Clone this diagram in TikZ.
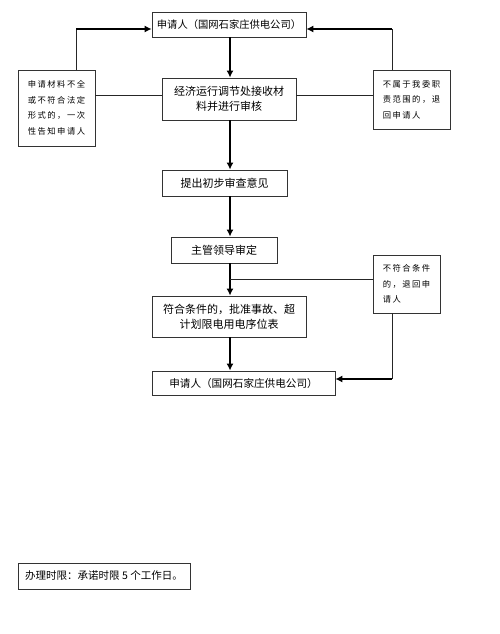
\documentclass[tikz,border=0pt]{standalone}
\usepackage{fontspec}
\setmainfont{Noto Sans CJK SC}
\newfontfamily\cjks[LetterSpace=18]{Noto Sans CJK SC}
\usetikzlibrary{arrows.meta}
\begin{document}
\begin{tikzpicture}[x=1pt,y=-1pt,
  box/.style={draw=black!80,line width=0.8pt,rectangle,inner sep=1pt,align=center,font=\fontsize{11}{15}\selectfont},
  sidebox/.style={draw=black!80,line width=0.8pt,rectangle,inner sep=1pt,align=left,font=\cjks\fontsize{8.3}{15.5}\selectfont},
  arr/.style={line width=1.4pt,-{Latex[length=7pt,width=7pt]}},
  thinline/.style={line width=0.7pt,black!85},
  backarr/.style={line width=1.2pt,-{Latex[length=7pt,width=7pt]}}]
\useasboundingbox (0,0) rectangle (500,634);
\fill[white] (0,0) rectangle (500,634);
\node[box,minimum width=154pt,minimum height=25pt,font=\fontsize{10.3}{14}\selectfont] (top) at (229,24.5) {申请人（国网石家庄供电公司）};
\node[box,minimum width=134pt,minimum height=42pt] (rec) at (229,99) {经济运行调节处接收材\\料并进行审核};
\node[sidebox,minimum width=77pt,minimum height=76pt] (left) at (56.5,108) {申请材料不全\\或不符合法定\\形式的，一次\\性告知申请人};
\node[sidebox,minimum width=77pt,minimum height=59pt] (right) at (411.5,99.5) {不属于我委职\\责范围的，退\\回申请人};
\node[box,minimum width=125pt,minimum height=26pt] (prel) at (224.5,183) {提出初步审查意见};
\node[box,minimum width=106pt,minimum height=26pt] (lead) at (224,250) {主管领导审定};
\node[box,minimum width=154pt,minimum height=41pt] (appr) at (229,316.5) {符合条件的，批准事故、超\\计划限电用电序位表};
\node[sidebox,minimum width=67pt,minimum height=58pt] (rej) at (406.5,284) {不符合条件\\的，退回申\\请人};
\node[box,minimum width=183pt,minimum height=24pt,font=\fontsize{10.6}{14}\selectfont] (app2) at (243.5,383) {申请人（国网石家庄供电公司）};
\node[box,minimum width=172pt,minimum height=26pt,font=\fontsize{10.5}{12}\selectfont] (note) at (104,576) {办理时限：承诺时限 5 个工作日。};
\coordinate (y95) at (0,95);
\coordinate (y29) at (0,29);
\coordinate (y279) at (0,279);
\coordinate (y379) at (0,379);
\coordinate (x230) at (230,0);
\coordinate (lx) at (76,0);
\coordinate (rx) at (392,0);
\draw[arr] (top.south -| x230) -- (rec.north -| x230);
\draw[arr] (rec.south -| x230) -- (prel.north -| x230);
\draw[arr] (prel.south -| x230) -- (lead.north -| x230);
\draw[arr] (lead.south -| x230) -- (appr.north -| x230);
\draw[arr] (appr.south -| x230) -- (app2.north -| x230);
\draw[thinline] (rec.west |- y95) -- (left.east |- y95);
\draw[thinline] (rec.east |- y95) -- (right.west |- y95);
\draw[thinline] (left.north -| lx) -- (lx |- y29);
\draw[backarr] (lx |- y29) -- (top.west |- y29);
\draw[thinline] (right.north -| rx) -- (rx |- y29);
\draw[backarr] (rx |- y29) -- (top.east |- y29);
\draw[thinline] (x230 |- y279) -- (rej.west |- y279);
\draw[thinline] (rej.south -| rx) -- (rx |- y379);
\draw[backarr] (rx |- y379) -- (app2.east |- y379);
\end{tikzpicture}
\end{document}
